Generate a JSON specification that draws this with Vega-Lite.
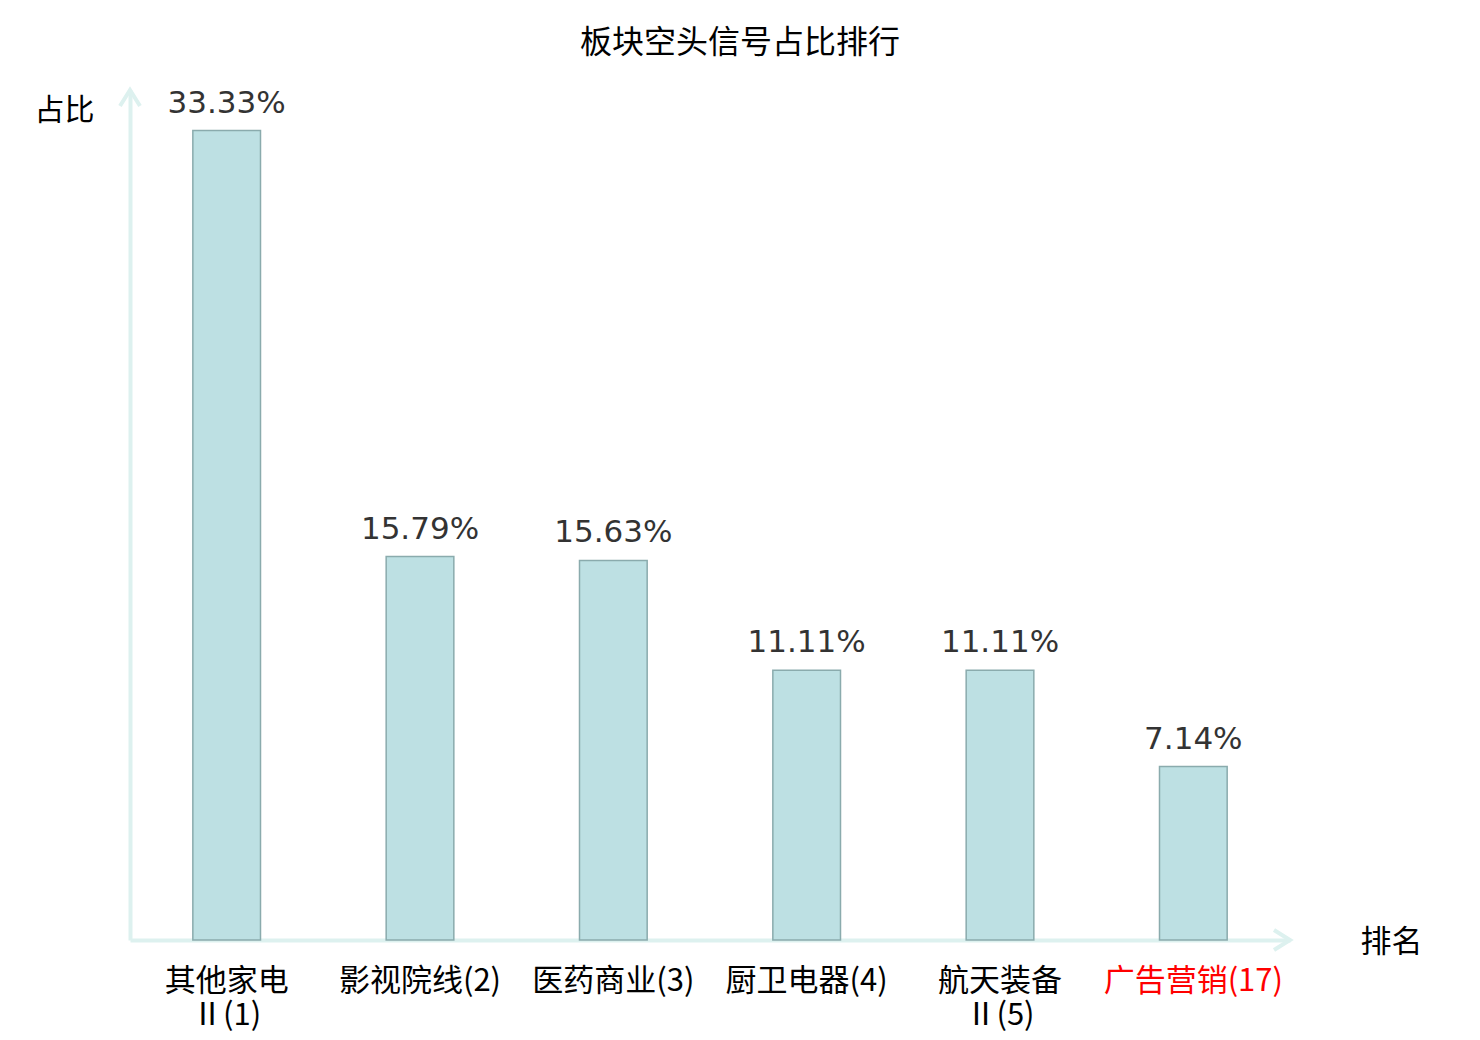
{
  "$schema": "https://vega.github.io/schema/vega-lite/v6.json",
  "width": 1160,
  "height": 850,
  "autosize": "none",
  "padding": {"left": 130, "top": 90, "right": 190, "bottom": 100},
  "background": "white",
  "config": {
    "view": {"stroke": null},
    "font": "Noto Sans CJK SC"
  },
  "title": {
    "text": "板块空头信号占比排行",
    "font": "Noto Sans CJK SC",
    "fontSize": 32,
    "fontWeight": "normal",
    "color": "#000000",
    "anchor": "middle",
    "frame": "group",
    "dx": 30,
    "offset": 22
  },
  "data": {
    "values": [
      {"sector": "其他家电Ⅱ(1)", "ratio": 0.3333},
      {"sector": "影视院线(2)", "ratio": 0.1579},
      {"sector": "医药商业(3)", "ratio": 0.1563},
      {"sector": "厨卫电器(4)", "ratio": 0.1111},
      {"sector": "航天装备Ⅱ(5)", "ratio": 0.1111},
      {"sector": "广告营销(17)", "ratio": 0.0714}
    ]
  },
  "encoding": {
    "x": {
      "field": "sector",
      "type": "nominal",
      "sort": null,
      "scale": {"paddingInner": 0.65, "paddingOuter": 0.325},
      "axis": {
        "title": "排名",
        "titleFont": "Noto Sans CJK SC",
        "titleFontSize": 31,
        "titleFontWeight": "normal",
        "titleColor": "#000000",
        "titleAngle": 0,
        "titleX": 1261,
        "titleY": 2,
        "titleAlign": "center",
        "titleBaseline": "middle",
        "labelAngle": 0,
        "labelFont": "Noto Sans CJK SC",
        "labelFontSize": 31,
        "labelLineHeight": 34,
        "labelBaseline": "top",
        "labelPadding": 26,
        "labelColor": {
          "condition": {"test": "datum.value == '广告营销(17)'", "value": "#ff0000"},
          "value": "#000000"
        },
        "labelExpr": "indexof(datum.label, 'Ⅱ') > 0 ? [substring(datum.label, 0, indexof(datum.label, 'Ⅱ')), substring(datum.label, indexof(datum.label, 'Ⅱ'))] : datum.label",
        "ticks": false,
        "domainColor": "#ddf1ef",
        "domainWidth": 4
      }
    },
    "y": {
      "field": "ratio",
      "type": "quantitative",
      "scale": {"domain": [0, 0.35]},
      "axis": {
        "title": "占比",
        "titleFont": "Noto Sans CJK SC",
        "titleFontSize": 30,
        "titleFontWeight": "normal",
        "titleColor": "#000000",
        "titleAngle": 0,
        "titleX": -66,
        "titleY": 20,
        "titleAlign": "center",
        "titleBaseline": "middle",
        "labels": false,
        "ticks": false,
        "grid": false,
        "domainColor": "#ddf1ef",
        "domainWidth": 4
      }
    }
  },
  "layer": [
    {
      "mark": {"type": "bar", "fill": "#bde0e3", "stroke": "#8aabad", "strokeWidth": 1.5}
    },
    {
      "mark": {
        "type": "text",
        "font": "DejaVu Sans",
        "fontSize": 31,
        "color": "#333333",
        "baseline": "alphabetic",
        "dy": -18
      },
      "encoding": {
        "text": {"field": "ratio", "type": "quantitative", "format": ".2%"}
      }
    },
    {
      "data": {"values": [{"end": "y", "v": 0.35}]},
      "mark": {
        "type": "point",
        "shape": "M-1,1.6L0,0L1,1.6",
        "filled": false,
        "color": "#ddf1ef",
        "strokeWidth": 4,
        "size": 400,
        "opacity": 1
      },
      "encoding": {
        "x": {"value": 0},
        "y": {"field": "v", "type": "quantitative"}
      }
    },
    {
      "data": {"values": [{"end": "x", "v": 0}]},
      "mark": {
        "type": "point",
        "shape": "M-1.6,-1L0,0L-1.6,1",
        "filled": false,
        "color": "#ddf1ef",
        "strokeWidth": 4,
        "size": 400,
        "opacity": 1
      },
      "encoding": {
        "x": {"value": 1160},
        "y": {"field": "v", "type": "quantitative"}
      }
    }
  ]
}
